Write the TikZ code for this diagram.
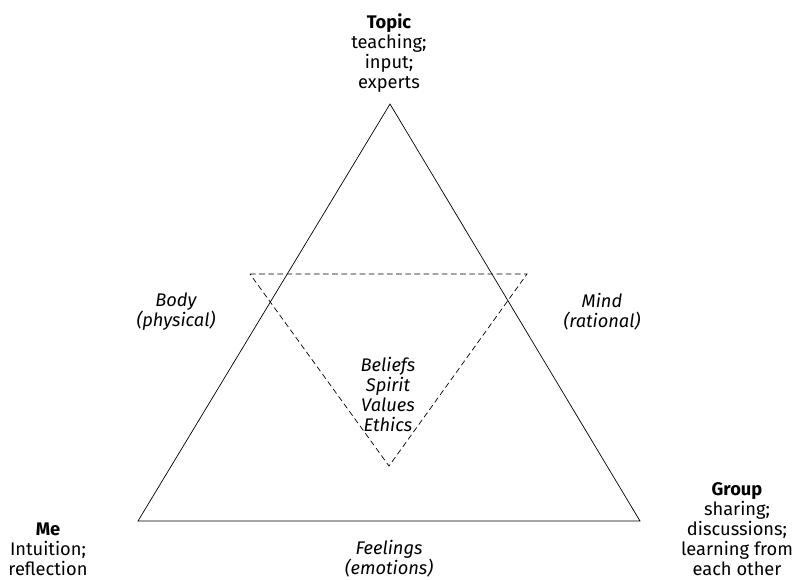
\documentclass[tikz,border=0pt]{standalone}
\usepackage{fontspec}
\setmainfont{Fira Sans}
\def\h{0.02}
\tikzset{
	ecke/.style={align=center,anchor=north,inner sep=0pt,font=\fontsize{10.4}{11.4}\selectfont},
	seite/.style={ecke,font=\fontsize{10.4}{11.4}\selectfont\itshape}
}

\begin{document}
\begin{tikzpicture}[x=\h cm,y=-\h cm,thin]
	\useasboundingbox (0,0) rectangle (794,579);
	% grosses Dreieck
	\coordinate (spitze) at (390,104);
	\coordinate (links) at (138,521);
	\coordinate (rechts) at (640,521);
	\draw (spitze) -- (links) -- (rechts) -- cycle;
	% gestricheltes Dreieck
	\coordinate (ol) at (250,274);
	\coordinate (or) at (527,274);
	\coordinate (unten) at (389,466);
	\draw[dash pattern=on 3.2pt off 2pt] (ol) -- (or) -- (unten) -- cycle;
	% Ecken
	\node[ecke] (topic) at (389,13) {\textbf{Topic}\\teaching;\\input;\\experts};
	\node[ecke] (me) at (48,522) {\textbf{Me}\\Intuition;\\reflection};
	\node[ecke] (group) at (737,482) {\textbf{Group}\\sharing;\\discussions;\\learning from\\each other};
	% Seiten
	\node[seite] (body) at (176,292) {Body\\(physical)};
	\node[seite] (mind) at (602,293) {Mind\\(rational)};
	\node[seite] (feelings) at (389,540) {Feelings\\(emotions)};
	\node[seite] (beliefs) at (388,357) {Beliefs\\Spirit\\Values\\Ethics};
\end{tikzpicture}
\end{document}
